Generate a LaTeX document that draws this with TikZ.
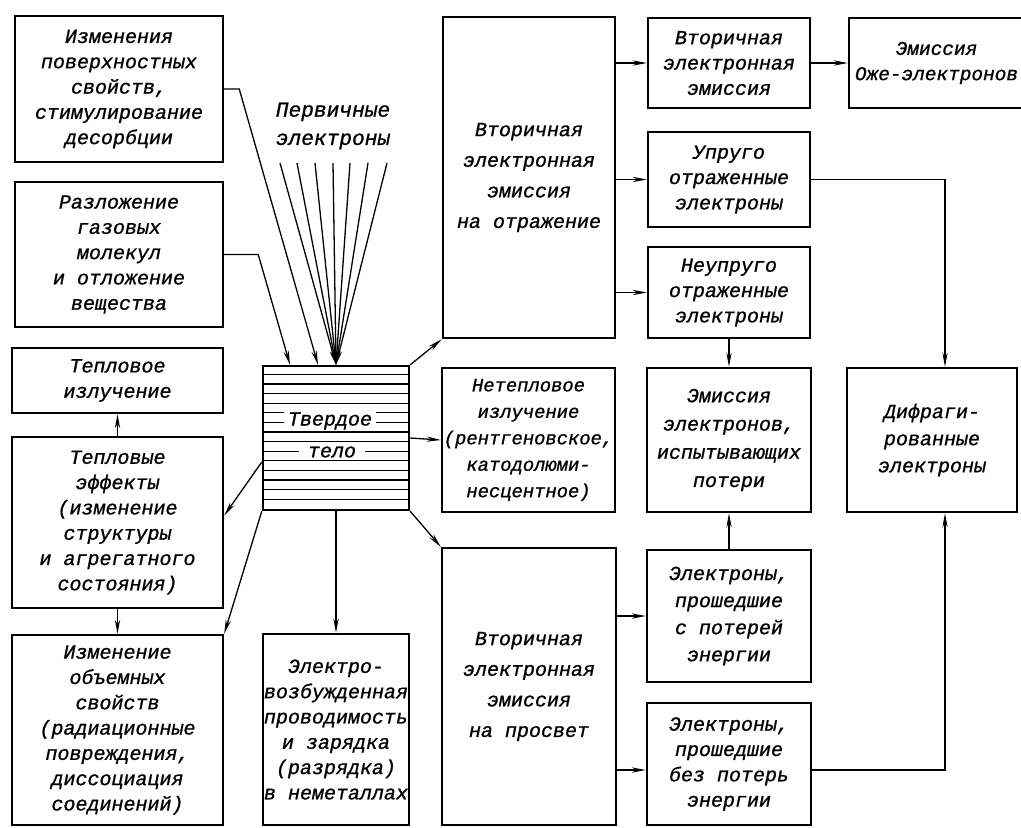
\documentclass[tikz,border=0pt]{standalone}
\usepackage{fontspec}
\newfontfamily\gostfont{Liberation Mono}[FakeBold=1]
\newcommand\gost{\gostfont\itshape}
\usetikzlibrary{arrows.meta,calc,positioning}
\tikzset{blk/.style={draw, line width=2.1pt, align=center, inner sep=0pt, font=\gost\fontsize{17}{21.5}\selectfont},
  wide/.style={font=\gost\fontsize{17}{26}\selectfont},
  wh/.style 2 args={minimum width=#1*0.85pt, minimum height=#2*0.85pt},
  ln/.style={line width=1.1pt}}

\begin{document}
\begin{tikzpicture}[x=0.85pt, y=-0.85pt, >={Stealth[length=12pt,width=4.5pt]}]
\path[use as bounding box, clip] (0,0) rectangle (1021,827);

% left column
\node[blk, wh={208}{146}] (ps) at (119,89) {Изменения\\поверхностных\\свойств,\\стимулирование\\десорбции};
\node[blk, wh={208}{145}] (rg) at (119,254.5) {Разложение\\газовых\\молекул\\и отложение\\вещества};
\node[blk, wh={211}{65}] (ti) at (117.5,380.5) {Тепловое\\излучение};
\node[blk, wh={211}{171}] (te) at (117.5,522.5) {Тепловые\\эффекты\\(изменение\\структуры\\и агрегатного\\состояния)};
\node[blk, wh={211}{190}] (io) at (117.5,730) {Изменение\\объемных\\свойств\\(радиационные\\повреждения,\\диссоциация\\соединений)};

% solid body
\node[blk, wh={146}{144}] (tv) at (336,438) {};
\foreach \k in {1,...,14}
  \draw[line width=1pt] ($(tv.north west)+(0,9.6*\k)$) -- ($(tv.north east)+(0,9.6*\k)$);
\node[fill=white, font=\gost\fontsize{17}{18}\selectfont, inner xsep=3pt, inner ysep=1pt] (tv1) at (330,421) {Твердое};
\node[fill=white, font=\gost\fontsize{17}{18}\selectfont, inner xsep=8pt, inner ysep=1pt] (tv2) at (332,452) {тело};
\node[blk, wh={146}{191}] (ev) at (336,729.5) {Электро-\\возбужденная\\проводимость\\и зарядка\\(разрядка)\\в неметаллах};

% primary electrons
\node[align=center, font=\gost\fontsize{18}{24}\selectfont] (pe) at (333,126) {Первичные\\электроны};
\foreach \x [count=\i] in {280,297,315,333,350,368,387} {
  \coordinate (r\i) at (\x,163);
  \draw[->, ln] (r\i) -- (tv.north);
}

% middle column
\node[blk, wide, wh={172}{321}] (vo) at (529,177.5) {Вторичная\\электронная\\эмиссия\\на отражение};
\node[blk, wh={173}{144}, font=\gost\fontsize{16}{22.5}\selectfont] (ni) at (528.5,440) {Нетепловое\\излучение\\(рентгеновское,\\катодолюми-\\несцентное)};
\node[blk, wide, wh={174}{277}] (vp) at (529,686.5) {Вторичная\\электронная\\эмиссия\\на просвет};

% right columns
\node[blk, wh={162}{90}] (ve) at (729,63) {Вторичная\\электронная\\эмиссия};
\node[blk, wh={175}{90}, font=\gost\fontsize{16.5}{21.5}\selectfont] (oz) at (936.5,63) {Эмиссия\\Оже-электронов};
\node[blk, wh={162}{95}] (uo) at (729,179.5) {Упруго\\отраженные\\электроны};
\node[blk, wh={162}{91}] (no) at (729,292.5) {Неупруго\\отраженные\\электроны};
\node[blk, wh={164}{144}, font=\gost\fontsize{17}{24}\selectfont] (ep) at (729,440) {Эмиссия\\электронов,\\испытывающих\\потери};
\node[blk, wh={164}{132}, font=\gost\fontsize{17}{23}\selectfont] (pp) at (729,616) {Электроны,\\прошедшие\\с потерей\\энергии};
\node[blk, wh={164}{122}] (pb) at (729,764) {Электроны,\\прошедшие\\без потерь\\энергии};
\node[blk, wh={170}{144}, font=\gost\fontsize{17}{23}\selectfont] (df) at (932,440) {Дифраги-\\рованные\\электроны};

\coordinate (tvl) at ($(tv.west)+(0,24)$);
\coordinate (mi) at ($(pb.west)+(0,6)$);

\draw[->, ln] (ps.east) -- ++(15,0) -- ($(tv.north)+(-18,0)$);
\draw[->, ln] (rg.east) -- ++(34,0) -- ($(tv.north)+(-46,0)$);

\path[->, ln] (te.north) edge (ti.south)
  (te.south) edge (io.north)
  (tvl) edge ($(te.east)+(0,-7)$)
  (tv.south west) edge (io.north east)
  (tv.south) edge (ev.north)
  (tv.north east) edge (vo.south west)
  (tv.east) edge (ni.west)
  (tv.south east) edge (vp.north west)
  (vo.east |- ve.west) edge (ve.west)
  (ve.east) edge (oz.west)
  (vo.east |- uo.west) edge (uo.west)
  (vo.east |- no.west) edge (no.west)
  (no.south) edge (ep.north)
  (pp.north) edge (ep.south)
  (vp.east |- pp.west) edge (pp.west)
  (vp.east |- mi) edge (mi);

\draw[->, ln] (uo.east) -| ($(df.north)+(13,0)$);
\draw[->, ln] (mi -| pb.east) -| ($(df.south)+(13,0)$);
\end{tikzpicture}
\end{document}
